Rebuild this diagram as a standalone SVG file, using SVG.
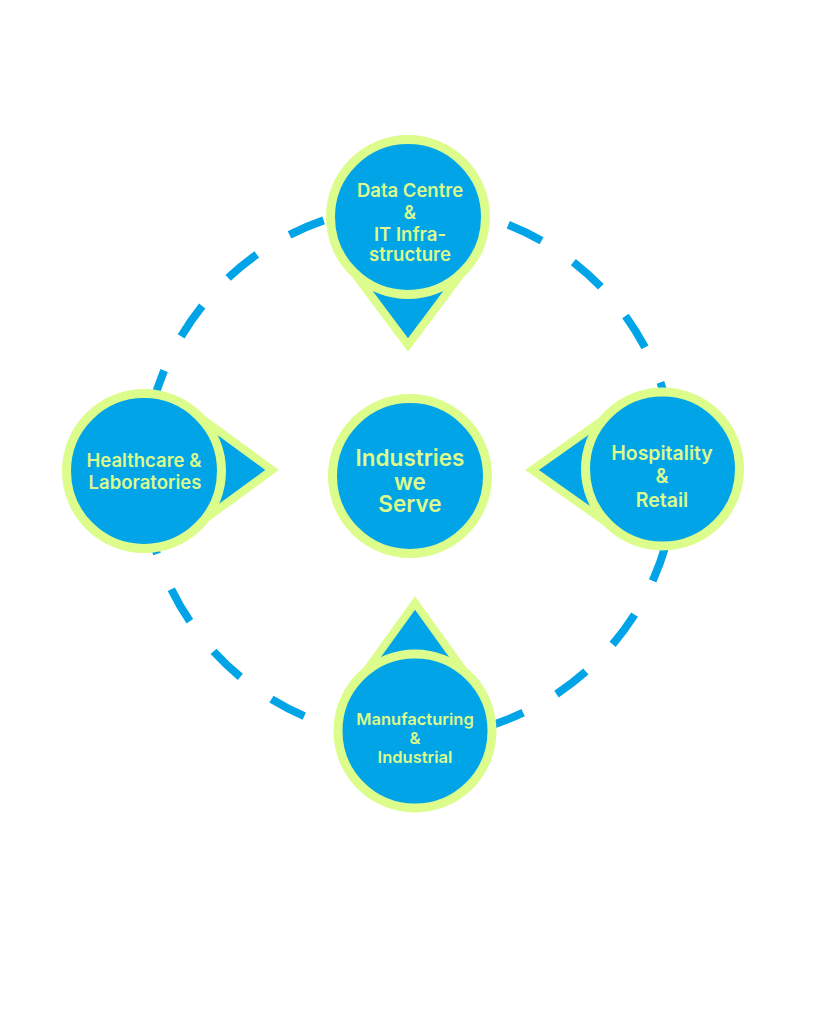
<svg xmlns="http://www.w3.org/2000/svg" width="819" height="1024" viewBox="0 0 819 1024">
<style>
.ring{fill:#02A4E8;stroke:#DCFC8C;stroke-width:9}
.tri{fill:#02A4E8;stroke:#DCFC8C;stroke-width:8;stroke-linejoin:miter;stroke-miterlimit:10}
.lbl{font-family:Inter,"Open Sans","Liberation Sans",sans-serif;font-weight:600;fill:#DCFC8C;text-anchor:middle}
.dash{fill:none;stroke:#02A4E8;stroke-width:8;stroke-dasharray:37 38.2}
</style>
<rect width="819" height="1024" fill="#ffffff"/>
<g id="connectors">
<circle class="dash" cx="410" cy="472" r="266"/>
</g>
<g id="node-top">
<polygon class="tri" points="346,262 470,262 408,345"/>
<circle class="ring" cx="408" cy="217" r="77.5"/>
<text class="lbl" font-size="18.5"><tspan x="410" y="197">Data Centre</tspan><tspan x="410" y="219">&amp;</tspan><tspan x="410" y="240.5">IT Infra-</tspan><tspan x="410" y="261">structure</tspan></text>
</g>
<g id="node-left">
<polygon class="tri" points="190,410 190,530 272,470"/>
<circle class="ring" cx="144" cy="471" r="77.5"/>
<text class="lbl" font-size="18.5"><tspan x="144" y="467">Healthcare &amp;</tspan><tspan x="145" y="489">Laboratories</tspan></text>
</g>
<g id="node-right">
<polygon class="tri" points="617,410 617,530 532,470"/>
<circle class="ring" cx="662.5" cy="469" r="77"/>
<text class="lbl" font-size="19.5"><tspan x="662" y="460">Hospitality</tspan><tspan x="662" y="483">&amp;</tspan><tspan x="662" y="507">Retail</tspan></text>
</g>
<g id="node-bottom">
<polygon class="tri" points="356,685 474,685 415,603"/>
<circle class="ring" cx="415" cy="731" r="77"/>
<text class="lbl" font-size="16.5"><tspan x="415" y="725">Manufacturing</tspan><tspan x="415" y="744">&amp;</tspan><tspan x="415" y="763">Industrial</tspan></text>
</g>
<g id="node-center">
<circle class="ring" cx="410" cy="476" r="77.5"/>
<text class="lbl" font-size="22.5" font-weight="700"><tspan x="410" y="466">Industries</tspan><tspan x="410" y="490">we</tspan><tspan x="410" y="512">Serve</tspan></text>
</g>
</svg>
